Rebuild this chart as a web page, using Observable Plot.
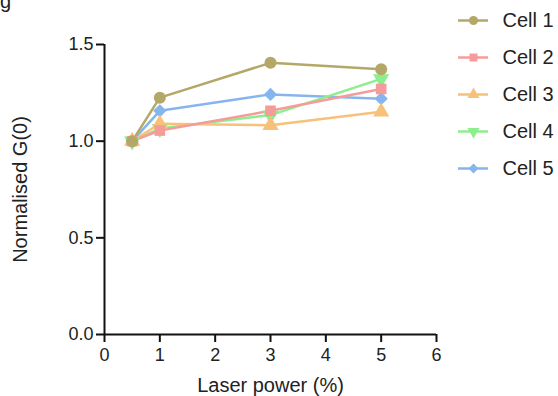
<!DOCTYPE html>
<html>
<head>
<meta charset="utf-8">
<script src="https://cdn.jsdelivr.net/npm/d3@7"></script>
<script src="https://cdn.jsdelivr.net/npm/@observablehq/plot@0.6"></script>
<style>
  html, body { margin: 0; padding: 0; background: #fff; overflow: hidden; }
  #wrap { position: relative; width: 558px; height: 396px; font-family: "Liberation Sans", Arial, sans-serif; }
  #panel { position: absolute; left: 0; top: -9px; font-size: 20px; line-height: 20px; color: #222; }
  #legend { position: absolute; left: 440px; top: 0; }
  #chart { position: absolute; left: 0; top: 0; }
</style>
</head>
<body>
<div id="wrap">
  <div id="chart"></div>
  <div id="legend"></div>
  <div id="panel">g</div>
</div>
<script>
const cells = ["Cell 1", "Cell 2", "Cell 3", "Cell 4", "Cell 5"];
const laserPower = [0.5, 1, 3, 5];
const cell1 = [1.00, 1.225, 1.405, 1.372];
const cell2 = [1.00, 1.055, 1.157, 1.270];
const cell3 = [1.00, 1.090, 1.082, 1.152];
const cell4 = [1.00, 1.065, 1.135, 1.322];
const cell5 = [1.00, 1.157, 1.242, 1.220];
const xTicks = [0, 1, 2, 3, 4, 5, 6];
const yTicks = [0, 0.5, 1.0, 1.5];
const colors = ["#b3a867", "#f59c9a", "#f7c17a", "#8cee8c", "#86b5ee"];

const sqrt3 = Math.sqrt(3);
const triangleDown = {
  draw(context, size) {
    const y = Math.sqrt(size / (sqrt3 * 3));
    context.moveTo(0, y * 2);
    context.lineTo(-sqrt3 * y, -y);
    context.lineTo(sqrt3 * y, -y);
    context.closePath();
  }
};
const symbols = ["circle", "square", "triangle", triangleDown, "diamond2"];

const series = [cell1, cell2, cell3, cell4, cell5];
const data = [];
// draw Cell 5 first so Cell 1 is on top
for (let s = series.length - 1; s >= 0; s--) {
  series[s].forEach((v, i) => data.push({cell: cells[s], power: laserPower[i], g0: v}));
}

const font = '"Liberation Sans", Arial, sans-serif';

const chart = Plot.plot({
  width: 558,
  height: 396,
  marginLeft: 104,
  marginRight: 122,
  marginTop: 44,
  marginBottom: 62,
  style: {fontFamily: font, fontSize: "18px", color: "#222", background: "transparent"},
  x: {domain: [0, 6]},
  y: {domain: [0, 1.5]},
  color: {domain: cells, range: colors},
  symbol: {domain: cells, range: symbols},
  marks: [
    Plot.axisX({ticks: xTicks, tickFormat: d3.format("d"), tickSize: 8, tickPadding: 6, strokeWidth: 2, stroke: "#111",
      label: "Laser power (%)", labelAnchor: "center", labelArrow: "none", labelOffset: 57, fontSize: 18}),
    Plot.axisY({ticks: yTicks, tickFormat: d3.format(".1f"), tickSize: 8, tickPadding: 3, strokeWidth: 2, stroke: "#111",
      label: "Normalised G(0)", labelAnchor: "center", labelArrow: "none", labelOffset: 92, fontSize: 18}),
    Plot.ruleY([0], {stroke: "#111", strokeWidth: 2}),
    Plot.ruleX([0], {stroke: "#111", strokeWidth: 2}),
    Plot.line(data, {x: "power", y: "g0", z: "cell", stroke: "cell", strokeWidth: 2.5}),
    Plot.dot(data, {x: "power", y: "g0", symbol: "cell", fill: "cell", r: 6})
  ]
});
chart.querySelectorAll('g[aria-label="x-axis label"] text, g[aria-label="y-axis label"] text').forEach(t => t.setAttribute("font-size", "20px"));
document.getElementById("chart").append(chart);

const legend = Plot.plot({
  width: 118,
  height: 190,
  margin: 0,
  style: {fontFamily: font, fontSize: "20px", color: "#222", background: "transparent", overflow: "visible"},
  x: {type: "identity", axis: null},
  y: {type: "point", domain: cells, range: [20, 168], padding: 0, axis: null},
  color: {domain: cells, range: colors},
  symbol: {domain: cells, range: symbols},
  marks: [
    Plot.ruleY(cells, {y: d => d, x1: 18, x2: 48, stroke: d => d, strokeWidth: 2.5}),
    Plot.dot(cells, {x: 33, y: d => d, symbol: d => d, fill: d => d, r: 4.5}),
    Plot.text(cells, {x: 62, y: d => d, text: d => d, textAnchor: "start", fill: "#222"})
  ]
});
document.getElementById("legend").append(legend);
</script>
</body>
</html>
